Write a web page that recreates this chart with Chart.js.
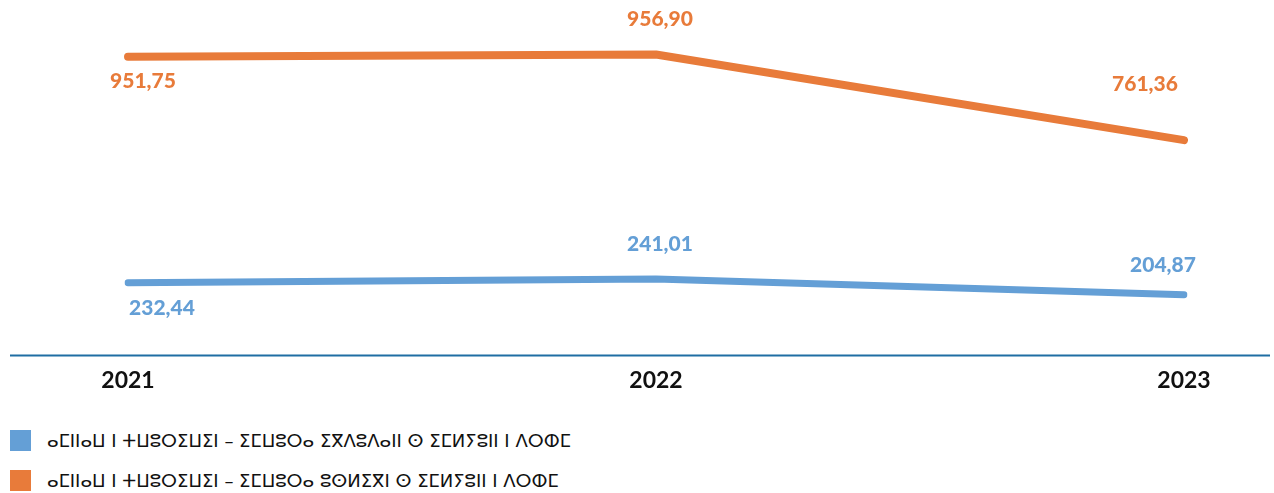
<!DOCTYPE html>
<html>
<head>
<meta charset="utf-8">
<script src="https://cdn.jsdelivr.net/npm/chart.js@4.4.1/dist/chart.umd.min.js"></script>
<style>
  body { margin: 0; background: #fff; width: 1274px; height: 493px; overflow: hidden; }
  #wrap { position: relative; width: 1274px; height: 412px; }
  #legend { position: absolute; left: 10px; top: 430px; font-family: 'DejaVu Sans', sans-serif; font-size: 18px; color: #111; }
  .row { display: flex; align-items: center; height: 21px; margin-bottom: 19px; }
  .box { width: 21px; height: 21px; margin-right: 16px; }
</style>
</head>
<body>
<div id="wrap"><canvas id="chart"></canvas></div>
<div id="legend"></div>
<script>
const years = ['2021', '2022', '2023'];
const publicValues = [232.44, 241.01, 204.87];
const privateValues = [951.75, 956.90, 761.36];
const seriesNames = [
  'ⴰⵎⵏⵏⴰⵡ ⵏ ⵜⵡⵓⵔⵉⵡⵉⵏ – ⵉⵎⵡⵓⵔⴰ ⵉⴳⴷⵓⴷⴰⵏⵏ ⵙ ⵉⵎⵍⵢⵓⵏⵏ ⵏ ⴷⵔⵀⵎ',
  'ⴰⵎⵏⵏⴰⵡ ⵏ ⵜⵡⵓⵔⵉⵡⵉⵏ – ⵉⵎⵡⵓⵔⴰ ⵓⵙⵍⵉⴳⵏ ⵙ ⵉⵎⵍⵢⵓⵏⵏ ⵏ ⴷⵔⵀⵎ'
];

const BLUE = '#649fd6';
const ORANGE = '#e87b3a';

// étiquettes de valeurs (pas de plugin datalabels dispo)
const valueLabels = {
  id: 'valueLabels',
  afterDatasetsDraw(chart, args, opts) {
    const ctx = chart.ctx;
    ctx.save();
    ctx.font = '900 21px Lato, sans-serif';
    ctx.textAlign = 'center';
    ctx.textBaseline = 'middle';
    chart.data.datasets.forEach((ds, i) => {
      const meta = chart.getDatasetMeta(i);
      ctx.fillStyle = ds.borderColor;
      meta.data.forEach((pt, j) => {
        const off = opts.offsets[i][j];
        const txt = ds.data[j].toLocaleString('fr-FR', { minimumFractionDigits: 2 });
        ctx.fillText(txt, pt.x + off[0], pt.y + off[1]);
      });
    });
    ctx.restore();
  }
};

// ligne de base sur toute la largeur
const baseLine = {
  id: 'baseLine',
  beforeDatasetsDraw(chart) {
    const ctx = chart.ctx;
    const y = chart.chartArea.bottom + 2;
    ctx.save();
    ctx.strokeStyle = '#1f6ea3';
    ctx.lineWidth = 2;
    ctx.beginPath();
    ctx.moveTo(10, y);
    ctx.lineTo(chart.width - 4, y);
    ctx.stroke();
    ctx.restore();
  }
};

const chart = new Chart(document.getElementById('chart'), {
  type: 'line',
  data: {
    labels: years,
    datasets: [
      {
        label: seriesNames[0],
        data: publicValues,
        borderColor: BLUE,
        backgroundColor: BLUE,
        borderWidth: 7,
        borderCapStyle: 'round',
        borderJoinStyle: 'round',
        pointRadius: 0,
        tension: 0,
        yAxisID: 'yPub'
      },
      {
        label: seriesNames[1],
        data: privateValues,
        borderColor: ORANGE,
        backgroundColor: ORANGE,
        borderWidth: 8,
        borderCapStyle: 'round',
        borderJoinStyle: 'round',
        pointRadius: 0,
        tension: 0,
        yAxisID: 'yPriv'
      }
    ]
  },
  options: {
    responsive: true,
    maintainAspectRatio: false,
    animation: false,
    layout: { padding: { left: 128, right: 90, top: 10, bottom: 5 } },
    plugins: {
      legend: { display: false },
      tooltip: { enabled: false },
      valueLabels: {
        offsets: [
          [[34, 26], [4, -35], [-21, -30]],
          [[15, 24], [4, -35], [-39, -56]]
        ]
      }
    },
    scales: {
      x: {
        offset: false,
        grid: { display: false, drawTicks: false },
        border: { display: false },
        ticks: { color: '#111', font: { family: 'Lato', size: 23, weight: 'bold' }, padding: 13 }
      },
      yPub: { display: false, min: 71, max: 855 },
      yPriv: { display: false, min: 274.5, max: 1058.5 }
    }
  },
  plugins: [valueLabels, baseLine]
});

// légende HTML
const legend = document.getElementById('legend');
chart.data.datasets.forEach(ds => {
  const row = document.createElement('div');
  row.className = 'row';
  row.innerHTML = '<div class="box" style="background:' + ds.backgroundColor + '"></div><span>' + ds.label + '</span>';
  legend.appendChild(row);
});
</script>
</body>
</html>
